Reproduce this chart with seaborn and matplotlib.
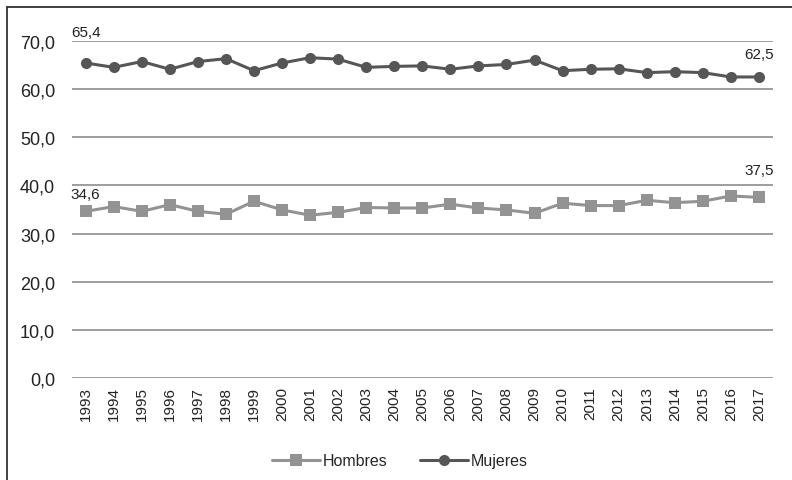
import numpy as np
import pandas as pd
import seaborn as sns
import matplotlib.pyplot as plt
from matplotlib.lines import Line2D

years = list(range(1993, 2018))
hombres = [34.6, 35.6, 34.6, 36.0, 34.6, 34.0, 36.7, 34.9, 33.8, 34.4, 35.4, 35.3, 35.3,
           36.1, 35.3, 34.9, 34.2, 36.3, 35.8, 35.8, 36.9, 36.4, 36.7, 37.8, 37.5]
mujeres = [65.4, 64.5, 65.7, 64.1, 65.7, 66.3, 63.8, 65.4, 66.5, 66.2, 64.5, 64.7, 64.8,
           64.1, 64.8, 65.1, 66.0, 63.8, 64.1, 64.2, 63.4, 63.6, 63.4, 62.5, 62.5]
series = ["Hombres", "Mujeres"]
colors = {"Hombres": "#939393", "Mujeres": "#555658"}
markers = {"Hombres": "s", "Mujeres": "o"}

df = pd.DataFrame({"pos": np.arange(len(years)), "Hombres": hombres, "Mujeres": mujeres})
long_df = df.melt(id_vars="pos", value_vars=series, var_name="sexo", value_name="valor")

sns.set_style("white")
plt.rcParams["font.family"] = ["Liberation Sans", "DejaVu Sans"]

fig = plt.figure(figsize=(7.92, 4.81), dpi=100)
ax = fig.add_axes([0.0905, 0.212, 0.8855, 0.701])

sns.lineplot(data=long_df, x="pos", y="valor", hue="sexo", style="sexo",
             palette=colors, markers=markers, dashes=False, linewidth=2.2,
             markersize=8, markeredgewidth=0, ax=ax, legend=False)

ax.set_xlim(-0.5, len(years) - 0.5)
ax.set_ylim(0, 70)
ax.set_yticks(np.arange(0, 71, 10))
ax.set_yticklabels([f"{v:.1f}".replace(".", ",") for v in np.arange(0, 71, 10)], fontsize=13, color="#222222")
ax.set_xticks(np.arange(len(years)))
ax.set_xticklabels([str(y) for y in years], rotation=90, fontsize=11, color="#222222")
ax.tick_params(axis="both", length=0)
ax.tick_params(axis="y", pad=12)
ax.tick_params(axis="x", pad=6)
ax.set_xlabel("")
ax.set_ylabel("")
for s in ax.spines.values():
    s.set_visible(False)
ax.yaxis.grid(True, color="#8c8c8c", linewidth=1.2)
ax.set_axisbelow(True)

# end labels
def lab(i, vals, dy):
    ax.annotate(f"{vals[i]:.1f}".replace(".", ","), (i, vals[i]), xytext=(0, dy),
                textcoords="offset pixels", ha="center", va="bottom", fontsize=11, color="#222222")

lab(0, mujeres, 24)
lab(len(years) - 1, mujeres, 16)
lab(0, hombres, 10)
lab(len(years) - 1, hombres, 20)

handles = [Line2D([], [], color=colors[s], marker=markers[s], lw=2.2, markersize=8,
                  markeredgewidth=0) for s in series]
fig.legend(handles, series, loc="center", bbox_to_anchor=(0.505, 0.04), ncol=2, frameon=False,
           fontsize=11.5, handlelength=3.0, handletextpad=0.2, columnspacing=2.0)

# outer frame (left and top only)
fig.add_artist(Line2D([7 / 792, 7 / 792], [0, 1 - 8 / 481], transform=fig.transFigure, color="#333333", lw=1.3))
fig.add_artist(Line2D([7 / 792, 1], [1 - 8 / 481, 1 - 8 / 481], transform=fig.transFigure, color="#333333", lw=1.3))

fig.savefig("out.png", dpi=100)
